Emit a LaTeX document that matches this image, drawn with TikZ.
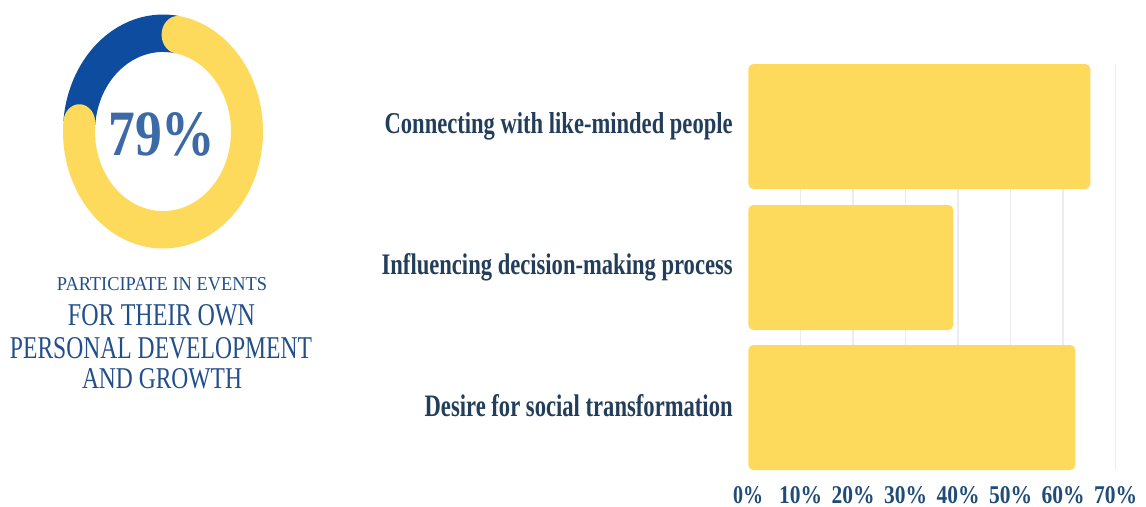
\documentclass[tikz,border=0pt]{standalone}
\usepackage{fontspec}
\setmainfont{Liberation Serif}
\usepackage{graphicx}

\newlength\px
\setlength\px{0.02cm}
\newcommand\fit[3]{\resizebox{#1\px}{#2\px}{#3}}

\definecolor{barYellow}{HTML}{FDDA5C}
\definecolor{ringBlue}{HTML}{0E4CA0}
\definecolor{pctBlue}{HTML}{3C6AA6}
\definecolor{capBlue}{HTML}{224E8A}
\definecolor{labelNavy}{HTML}{233E5A}
\definecolor{tickNavy}{HTML}{1F4D78}
\definecolor{gridGrey}{HTML}{ECECEC}

\begin{document}
\begin{tikzpicture}[x=1\px,y=1\px,
    bar/.style={fill=barYellow,rounded corners=5\px,inner sep=0pt,
      minimum height=125\px,anchor=west},
    grid line/.style={draw=gridGrey,line width=0.7pt},
    barlabel/.style={inner sep=0pt,font=\bfseries,text=labelNavy,anchor=base east},
    captext/.style={inner sep=0pt,text=capBlue,anchor=base},
    ticklabel/.style={inner sep=0pt,font=\bfseries,text=tickNavy,anchor=base}]
\useasboundingbox (0,0) rectangle (1146,-507);

\begin{scope}[transform canvas={shift={(163,-131.5)},yscale=1.17}]
\draw[ringBlue,line width=32\px] (80:84) arc[start angle=80,end angle=175,radius=84];
\draw[barYellow,line width=32\px,line cap=round] (80:84)
    arc[start angle=80,end angle=-185,radius=84];
\end{scope}
\node[inner sep=0pt,anchor=base west,font=\bfseries,text=pctBlue] (pct)
    at (108,-155) {\fit{107}{43}{79\%}};

\node[captext] (cap1) at (162,-290) {\fit{210}{13}{PARTICIPATE IN EVENTS}};
\node[captext] (cap2) at (161.5,-325) {\fit{187}{21}{FOR THEIR OWN}};
\node[captext] (cap3) at (161,-358) {\fit{302}{21}{PERSONAL DEVELOPMENT}};
\node[captext] (cap4) at (162,-388) {\fit{160}{20}{AND GROWTH}};

\foreach \k in {1,...,7}
    \draw[grid line] (748+52.5*\k,-64) -- (748+52.5*\k,-470);

\node[bar,minimum width=342\px] (conn) at (748,-126.5) {};
\node[bar,minimum width=205\px] (infl) at (748,-267.5) {};
\node[bar,minimum width=327\px] (desi) at (748,-407.5) {};

\path (conn.west) ++(-15,-6.5)
    node[barlabel] (lconn) {\fit{348}{21}{Connecting with like-minded people}};
\path (infl.west) ++(-15,-6.5)
    node[barlabel] (linfl) {\fit{351}{21}{Influencing decision-making process}};
\path (desi.west) ++(-15,-8.5)
    node[barlabel] (ldesi) {\fit{308}{22}{Desire for social transformation}};

\foreach \k in {0,...,7}
    \node[ticklabel] (t\k) at (748+52.5*\k,-503)
      {\ifnum\k=0 \fit{30}{17}{0\%}\else\fit{43}{17}{\k0\%}\fi};
\end{tikzpicture}
\end{document}
